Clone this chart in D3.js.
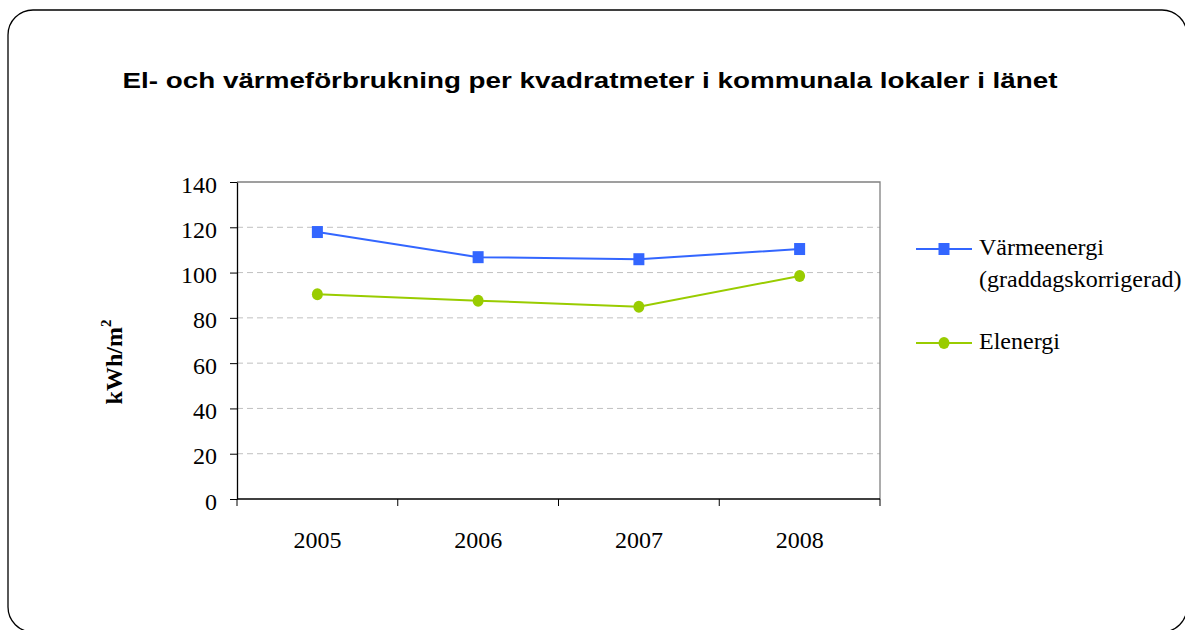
<!DOCTYPE html>
<html>
<head>
<meta charset="utf-8">
<script src="https://cdn.jsdelivr.net/npm/d3@7"></script>
<style>
  body { margin: 0; background: #fff; }
  svg { display: block; }
</style>
</head>
<body>
<svg id="chart"></svg>
<script>
const years = ["2005", "2006", "2007", "2008"];
const varmeenergi = [117.9, 106.8, 105.9, 110.4];
const elenergi = [90.4, 87.6, 84.9, 98.5];
const yTicks = [0, 20, 40, 60, 80, 100, 120, 140];

const width = 1185, height = 630;
const svg = d3.select("#chart").attr("width", width).attr("height", height);

// outer rounded frame
svg.append("rect")
    .attr("x", 8).attr("y", 10)
    .attr("width", 1179).attr("height", 622)
    .attr("rx", 25).attr("ry", 25)
    .attr("fill", "#fff")
    .attr("stroke", "#000")
    .attr("stroke-width", 1.3);

svg.append("text")
    .attr("x", 590).attr("y", 88)
    .attr("text-anchor", "middle")
    .attr("textLength", 935)
    .attr("lengthAdjust", "spacingAndGlyphs")
    .style("font-family", "'Liberation Sans', Arial, sans-serif")
    .style("font-weight", "bold")
    .style("font-size", "22px")
    .text("El- och värmeförbrukning per kvadratmeter i kommunala lokaler i länet");

const plot = { left: 237, top: 182, right: 880, bottom: 499 };

const x = d3.scaleBand().domain(years).range([plot.left, plot.right]);
const y = d3.scaleLinear().domain([0, 140]).range([plot.bottom, plot.top]);

const serif = "'Liberation Serif', 'Times New Roman', serif";

// gridlines
svg.append("g")
    .selectAll("line")
    .data(yTicks.filter(d => d > 0 && d < 140))
    .enter().append("line")
    .attr("x1", plot.left).attr("x2", plot.right)
    .attr("y1", d => y(d)).attr("y2", d => y(d))
    .attr("stroke", "#c0c0c0")
    .attr("stroke-dasharray", "6,4");

// plot frame top/right
svg.append("path")
    .attr("d", `M${plot.left},${plot.top}H${plot.right}V${plot.bottom}`)
    .attr("fill", "none")
    .attr("stroke", "#808080")
    .attr("stroke-width", 1.3);

// y axis
const yAxis = svg.append("g")
    .attr("transform", `translate(${plot.left},0)`)
    .call(d3.axisLeft(y).tickValues(yTicks).tickSize(7).tickPadding(13).tickSizeOuter(0));
yAxis.select(".domain").attr("stroke", "#000").attr("stroke-width", 1.3);
yAxis.selectAll(".tick line").attr("stroke", "#000");
yAxis.selectAll("text")
    .style("font-family", serif)
    .style("font-size", "24px")
    .attr("fill", "#000")
    .attr("dy", "0.42em");

// x axis with ticks between categories
const xAxisG = svg.append("g")
    .attr("transform", `translate(0,${plot.bottom})`);
xAxisG.append("line")
    .attr("x1", plot.left).attr("x2", plot.right)
    .attr("stroke", "#000").attr("stroke-width", 1.3);
const boundaries = years.map(d => x(d)).concat([plot.right]);
xAxisG.selectAll(".xtick")
    .data(boundaries)
    .enter().append("line")
    .attr("class", "xtick")
    .attr("x1", d => d).attr("x2", d => d)
    .attr("y1", 0).attr("y2", 7)
    .attr("stroke", "#000");
xAxisG.selectAll(".xlabel")
    .data(years)
    .enter().append("text")
    .attr("class", "xlabel")
    .attr("x", d => x(d) + x.bandwidth() / 2)
    .attr("y", 49)
    .attr("text-anchor", "middle")
    .style("font-family", serif)
    .style("font-size", "24px")
    .text(d => d);

// y axis title
const yTitle = svg.append("text")
    .attr("transform", "translate(122,362) rotate(-90)")
    .attr("text-anchor", "middle")
    .style("font-family", serif)
    .style("font-weight", "bold")
    .style("font-size", "24px");
yTitle.append("tspan").text("kWh/m");
yTitle.append("tspan").attr("dy", "-0.75em").style("font-size", "15px").text("2");

const cx = d => x(d) + x.bandwidth() / 2;
const series = [
    { name: ["Värmeenergi", "(graddagskorrigerad)"], values: varmeenergi, color: "#3366ff", shape: "square" },
    { name: ["Elenergi"], values: elenergi, color: "#99cc00", shape: "circle" }
];

const line = d3.line().x(d => cx(d.year)).y(d => y(d.value));

function marker(g, shape, color, px, py) {
    if (shape === "square") {
        g.append("rect")
            .attr("x", px - 5.5).attr("y", py - 6)
            .attr("width", 11).attr("height", 12)
            .attr("fill", color);
    } else {
        g.append("ellipse")
            .attr("cx", px).attr("cy", py).attr("rx", 5.5).attr("ry", 6)
            .attr("fill", color);
    }
}

series.forEach(s => {
    const pts = years.map((yr, i) => ({ year: yr, value: s.values[i] }));
    const g = svg.append("g");
    g.append("path")
        .datum(pts)
        .attr("d", line)
        .attr("fill", "none")
        .attr("stroke", s.color)
        .attr("stroke-width", 2);
    pts.forEach(p => marker(g, s.shape, s.color, cx(p.year), y(p.value)));
});

// legend
const legendY = [249, 343];
series.forEach((s, i) => {
    const g = svg.append("g");
    const ly = legendY[i];
    g.append("line")
        .attr("x1", 916).attr("x2", 972)
        .attr("y1", ly).attr("y2", ly)
        .attr("stroke", s.color).attr("stroke-width", 2);
    marker(g, s.shape, s.color, 944, ly);
    s.name.forEach((t, j) => {
        g.append("text")
            .attr("x", 979)
            .attr("y", ly + 6 + j * 32)
            .style("font-family", serif)
            .style("font-size", "24px")
            .text(t);
    });
});
</script>
</body>
</html>
